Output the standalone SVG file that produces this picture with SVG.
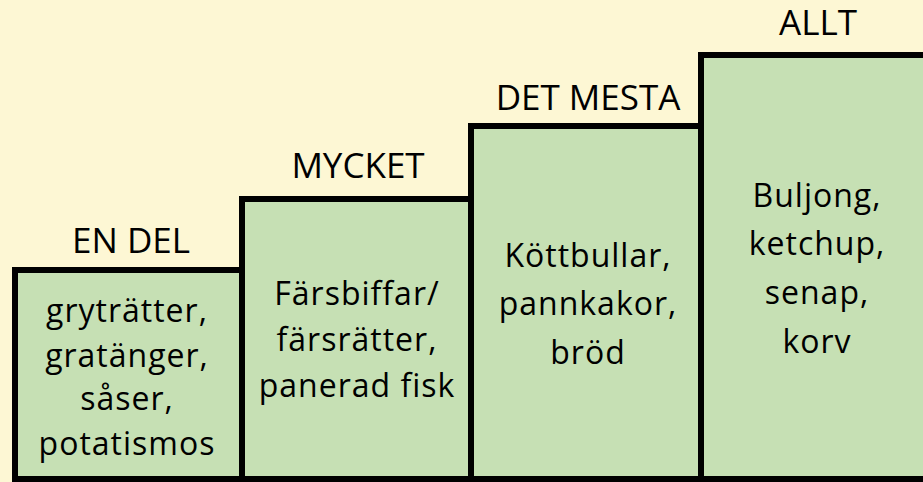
<svg xmlns="http://www.w3.org/2000/svg" width="923" height="482" viewBox="0 0 923 482">
<style>
.box{fill:#C6E0B4;stroke:#000;stroke-width:6}
.hd{font-family:"Open Sans","Noto Sans",sans-serif;font-size:35px;fill:#000;text-anchor:middle}
.tx{font-family:"Open Sans","Noto Sans",sans-serif;font-size:32px;fill:#000;text-anchor:middle;letter-spacing:1px}
</style>
<rect x="0" y="0" width="923" height="482" fill="#FDF7D4"/>
<g id="alla">
<rect class="box" x="701" y="55" width="240" height="424"/>
<text class="hd" x="818" y="35">ALLT</text>
<text class="tx" x="817" y="207">Buljong,</text>
<text class="tx" x="817" y="255">ketchup,</text>
<text class="tx" x="817" y="304">senap,</text>
<text class="tx" x="817" y="353">korv</text>
</g>
<g id="det-mesta">
<rect class="box" x="471" y="126" width="230" height="353"/>
<text class="hd" x="588" y="110">DET MESTA</text>
<text class="tx" x="588" y="267">Köttbullar,</text>
<text class="tx" x="588" y="315">pannkakor,</text>
<text class="tx" x="588" y="364">bröd</text>
</g>
<g id="mycket">
<rect class="box" x="242" y="199" width="229" height="280"/>
<text class="hd" x="358" y="178">MYCKET</text>
<text class="tx" x="357" y="305">Färsbiffar/</text>
<text class="tx" x="357" y="351">färsrätter,</text>
<text class="tx" x="357" y="397">panerad fisk</text>
</g>
<g id="en-del">
<rect class="box" x="15" y="270" width="227" height="209"/>
<text class="hd" x="131" y="253">EN DEL</text>
<text class="tx" x="127" y="322">gryträtter,</text>
<text class="tx" x="127" y="367">gratänger,</text>
<text class="tx" x="127" y="410">såser,</text>
<text class="tx" x="127" y="455">potatismos</text>
</g>
<g id="connectors"/>
</svg>
